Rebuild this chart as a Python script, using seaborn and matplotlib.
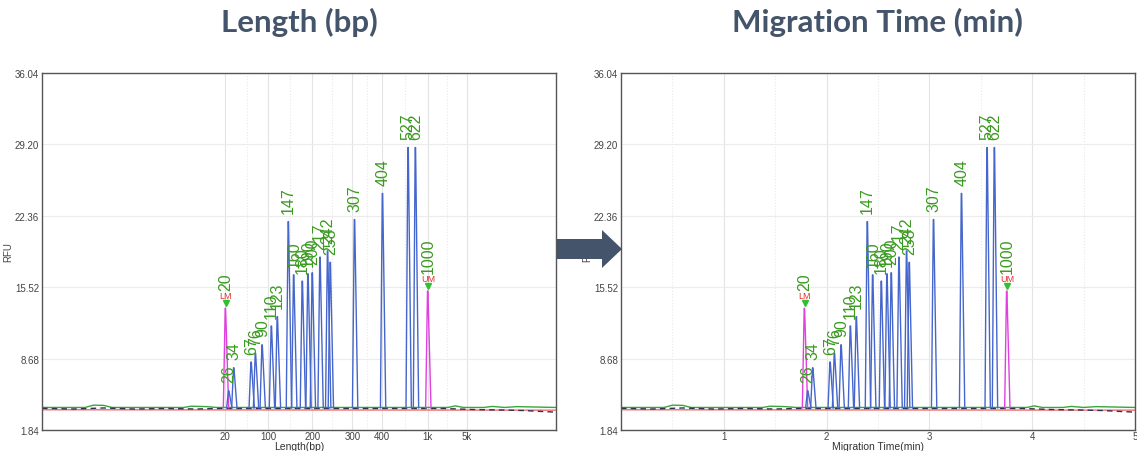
import matplotlib
matplotlib.use("Agg")
import matplotlib.pyplot as plt
from matplotlib.patches import Polygon
import numpy as np
import pandas as pd
import seaborn as sns

# peak table (time in min, height in RFU)
peak_labels = ['20', '26', '34', '67', '76', '90', '110', '123', '147', '160', '180',
               '190', '200', '217', '242', '258', '307', '404', '527', '622', '1000']
peak_times = [1.786, 1.818, 1.867, 2.036, 2.078, 2.143, 2.233, 2.291, 2.398, 2.450, 2.534,
              2.589, 2.631, 2.706, 2.780, 2.806, 3.042, 3.314, 3.563, 3.634, 3.754]
peak_heights = [13.5, 5.6, 7.8, 8.35, 9.2, 10.0, 11.8, 12.7, 21.8, 16.7, 16.1,
                16.8, 16.9, 18.4, 19.0, 17.9, 22.0, 24.5, 28.9, 28.9, 15.15]
peak_tags = ['LM', '', '', '', '', '', '', '', '', '', '',
             '', '', '', '', '', '', '', '', '', 'UM']

# other channels (flat baselines)
green_t = [0.0, 0.42, 0.5, 0.6, 0.68, 1.38, 1.45, 1.6, 1.7, 3.95, 4.02, 4.1, 4.3, 4.38, 4.5, 4.62, 5.0]
green_v = [4.0, 4.0, 4.22, 4.2, 4.0, 4.0, 4.12, 4.08, 4.0, 4.0, 4.15, 4.0, 4.0, 4.1, 4.0, 4.08, 4.0]
red_t = [0.0, 5.0]
red_v = [3.78, 3.74]
dark_t = [0.0, 0.3, 0.6, 0.9, 1.2, 1.5, 1.7, 3.9, 4.2, 4.5, 4.7, 4.85, 5.0]
dark_v = [3.92, 3.85, 3.95, 3.85, 3.9, 3.85, 3.9, 3.9, 3.8, 3.75, 3.7, 3.62, 3.55]

y_ticks = [1.84, 8.68, 15.52, 22.36, 29.20, 36.04]
len_tick_pos = [1.78, 2.20, 2.63, 3.02, 3.31, 3.75, 4.13]
len_tick_lab = ['20', '100', '200', '300', '400', '1k', '5k']
time_ticks = [1, 2, 3, 4, 5]

BASE = 3.95
rows = []
for i, (t, h, tag) in enumerate(zip(peak_times, peak_heights, peak_tags)):
    trace = 'marker' if tag else 'sample'
    for x, y in [(t - 0.022, BASE), (t - 0.004, h), (t, h), (t + 0.03, BASE)]:
        rows.append({'time': x, 'rfu': y, 'peak': i, 'trace': trace})
df = pd.DataFrame(rows)

sns.set_style("white")
plt.rcParams['font.family'] = ['Liberation Sans', 'DejaVu Sans']

fig = plt.figure(figsize=(11.37, 4.52), dpi=100)
ax1 = fig.add_axes([42 / 1137, 1 - 431 / 452, 514 / 1137, 357 / 452])
ax2 = fig.add_axes([621 / 1137, 1 - 431 / 452, 514 / 1137, 357 / 452])

for ax in (ax1, ax2):
    ax.set_xlim(0, 5)
    ax.set_ylim(1.84, 36.04)
    ax.set_yticks(y_ticks)
    ax.set_yticklabels([f'{v:.2f}' for v in y_ticks])
    ax.grid(axis='y', color='#ececec', lw=0.8)
    for s in ax.spines.values():
        s.set_color('#555555')
        s.set_linewidth(1.0)
    ax.tick_params(length=0, labelsize=7, colors='#444444', pad=2)
    ax.set_ylabel('RFU', fontsize=7, color='#444444')
    ax.yaxis.set_label_coords(-0.055, 0.5)

    ax.plot(green_t, green_v, color='#3aa53a', lw=1.0, zorder=2)
    ax.plot(red_t, red_v, color='#f07070', lw=1.0, zorder=2)
    ax.plot(dark_t, dark_v, color='#303050', lw=1.0, dashes=(4, 3), zorder=2)
    sns.lineplot(data=df, x='time', y='rfu', hue='trace', units='peak', estimator=None,
                 sort=False, palette={'sample': '#4566cc', 'marker': '#e040e0'},
                 lw=1.0, legend=False, ax=ax, zorder=3)

    for lab, t, h, tag in zip(peak_labels, peak_times, peak_heights, peak_tags):
        off = 6
        if tag:
            ax.plot([t], [h + 0.5], marker='v', color='#30c030', ms=4.5, zorder=4)
            ax.annotate(tag, (t, h), xytext=(0, 9), textcoords='offset points',
                        ha='center', va='center', fontsize=6.5, color='#e03030')
            off = 13
        ax.annotate(lab, (t, h), xytext=(0, off), textcoords='offset points',
                    ha='center', va='bottom', rotation=90, fontsize=11.5,
                    color='#3a9a20', zorder=5)

# x axis of the left panel labelled by fragment size
ax1.set_xticks(len_tick_pos)
ax1.set_xticklabels(len_tick_lab)
ax1.set_xticks([(a + b) / 2 for a, b in zip(len_tick_pos[:-1], len_tick_pos[1:])], minor=True)
ax1.set_xlabel('Length(bp)', fontsize=7.5, color='#333333', labelpad=0)

ax2.set_xticks(time_ticks)
ax2.set_xticks([0.5, 1.5, 2.5, 3.5, 4.5], minor=True)
ax2.set_xlabel('Migration Time(min)', fontsize=7.5, color='#333333', labelpad=0)

for ax in (ax1, ax2):
    ax.tick_params(axis='x', pad=1)
    ax.grid(axis='x', which='major', color='#e4e4e4', lw=0.8)
    ax.grid(axis='x', which='minor', color='#e8e8e8', lw=0.8, ls=':')
    ax.tick_params(which='minor', length=0)

fig.text(299 / 1137, 1 - 22 / 452, 'Length (bp)', ha='center', va='center',
         fontsize=22.5, fontweight='bold', color='#44546a', family='Lato')
fig.text(877 / 1137, 1 - 22 / 452, 'Migration Time (min)', ha='center', va='center',
         fontsize=22.5, fontweight='bold', color='#44546a', family='Lato')

# block arrow between the panels
pts = [(557, 240), (602, 240), (602, 231), (622, 250), (602, 269), (602, 260), (557, 260)]
arrow = Polygon([(x / 1137, 1 - y / 452) for x, y in pts], closed=True,
                transform=fig.transFigure, facecolor='#44546a', edgecolor='none', zorder=10)
fig.add_artist(arrow)

fig.savefig('out.png', dpi=100, facecolor='white')
